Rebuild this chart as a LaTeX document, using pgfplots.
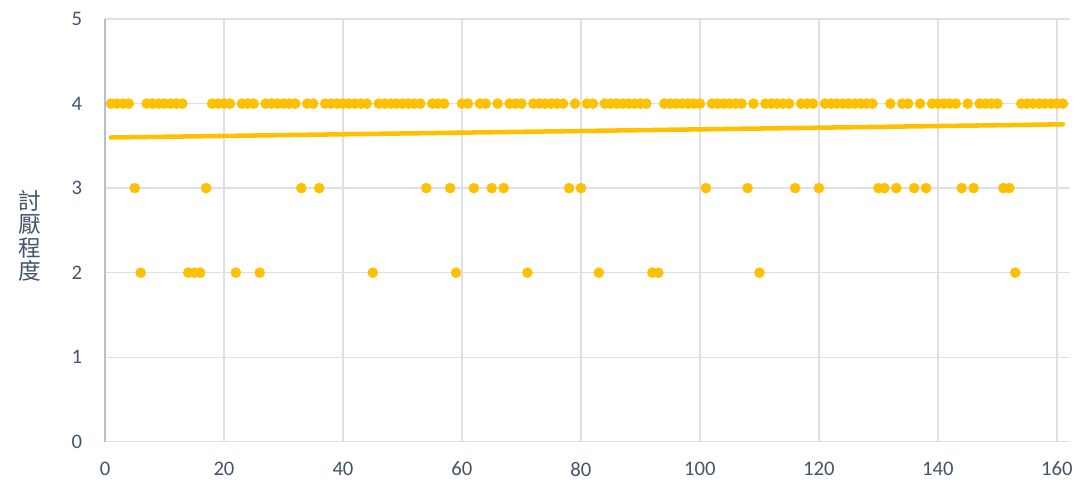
\documentclass[border=0pt]{standalone}
\usepackage{fontspec}
\setmainfont{Carlito}
\newfontfamily\cjk{Noto Sans CJK TC}
\usepackage{pgfplots}
\pgfplotsset{compat=1.18}
\definecolor{dotc}{HTML}{FFC000}
\definecolor{gridc}{HTML}{DDE1E7}
\definecolor{axc}{HTML}{B4BFD0}
\definecolor{txt}{HTML}{44546A}
\begin{document}
\begin{tikzpicture}
\begin{axis}[
  scale only axis, width=723.75pt, height=317pt,
  xmin=0, xmax=162.2, ymin=0, ymax=5,
  xtick={0,20,...,160}, ytick={0,1,...,5},
  axis x line*=bottom, axis y line*=left,
  axis line style={-},
  x axis line style={gridc, line width=1pt},
  y axis line style={axc, line width=1.5pt},
  grid=major, major grid style={gridc, line width=1pt},
  major tick length=0pt,
  ticklabel style={font=\fontsize{15.5}{18}\selectfont, text=txt, inner sep=0pt},
  /pgf/number format/assume math mode=true,
  yticklabel style={anchor=east, xshift=-17pt},
  xticklabel style={anchor=north, yshift=-15pt},
  ylabel={討\\厭\\程\\度},
  ylabel style={rotate=-90, align=center, at={(axis description cs:0,0.5)}, anchor=center, xshift=-56pt, yshift=-4pt,
    font=\cjk\fontsize{17}{17.5}\selectfont, text=txt},
  clip=false,
]
\addplot[only marks, mark=*, mark size=3.75pt, mark options={draw=dotc, fill=dotc}] coordinates {
(1,4)(2,4)(3,4)(4,4)(5,3)(6,2)(7,4)(8,4)(9,4)(10,4)(11,4)(12,4)(13,4)(14,2)(15,2)(16,2)(17,3)(18,4)(19,4)(20,4)
(21,4)(22,2)(23,4)(24,4)(25,4)(26,2)(27,4)(28,4)(29,4)(30,4)(31,4)(32,4)(33,3)(34,4)(35,4)(36,3)(37,4)(38,4)(39,4)(40,4)
(41,4)(42,4)(43,4)(44,4)(45,2)(46,4)(47,4)(48,4)(49,4)(50,4)(51,4)(52,4)(53,4)(54,3)(55,4)(56,4)(57,4)(58,3)(59,2)(60,4)
(61,4)(62,3)(63,4)(64,4)(65,3)(66,4)(67,3)(68,4)(69,4)(70,4)(71,2)(72,4)(73,4)(74,4)(75,4)(76,4)(77,4)(78,3)(79,4)(80,3)
(81,4)(82,4)(83,2)(84,4)(85,4)(86,4)(87,4)(88,4)(89,4)(90,4)(91,4)(92,2)(93,2)(94,4)(95,4)(96,4)(97,4)(98,4)(99,4)(100,4)
(101,3)(102,4)(103,4)(104,4)(105,4)(106,4)(107,4)(108,3)(109,4)(110,2)(111,4)(112,4)(113,4)(114,4)(115,4)(116,3)(117,4)(118,4)(119,4)(120,3)
(121,4)(122,4)(123,4)(124,4)(125,4)(126,4)(127,4)(128,4)(129,4)(130,3)(131,3)(132,4)(133,3)(134,4)(135,4)(136,3)(137,4)(138,3)(139,4)(140,4)
(141,4)(142,4)(143,4)(144,3)(145,4)(146,3)(147,4)(148,4)(149,4)(150,4)(151,3)(152,3)(153,2)(154,4)(155,4)(156,4)(157,4)(158,4)(159,4)(160,4)
(161,4)};
% linear trendline
\addplot[dotc, line width=3.4pt, line cap=round] coordinates {(1,3.599) (161,3.755)};
\end{axis}
\pgfresetboundingbox
\path (-78.75pt,-33.2pt) rectangle (732pt,331.3pt);
\end{tikzpicture}
\end{document}
